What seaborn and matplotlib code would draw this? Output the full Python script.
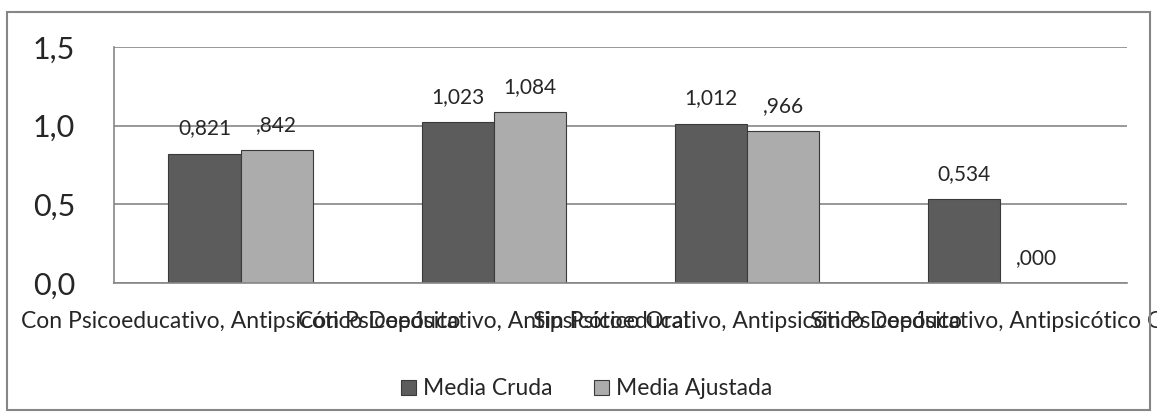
import pandas as pd
import matplotlib.pyplot as plt
import matplotlib.patches as patches
import seaborn as sns

categorias = [
    "Con Psicoeducativo, Antipsicótico Depósito",
    "Con Psicoeducativo, Antipsicótico Oral",
    "Sin Psicoeducativo, Antipsicótico Depósito",
    "Sin Psicoeducativo, Antipsicótico Oral",
]
media_cruda = [0.821, 1.023, 1.012, 0.534]
media_ajustada = [0.842, 1.084, 0.966, 0.000]
etiquetas_cruda = ["0,821", "1,023", "1,012", "0,534"]
etiquetas_ajustada = [",842", "1,084", ",966", ",000"]
series = ["Media Cruda", "Media Ajustada"]
yticks = [0.0, 0.5, 1.0, 1.5]
ytick_labels = ["0,0", "0,5", "1,0", "1,5"]

df = pd.DataFrame({
    "categoria": categorias * 2,
    "valor": media_cruda + media_ajustada,
    "serie": [series[0]] * 4 + [series[1]] * 4,
})

sns.set_style("white")
plt.rcParams['font.family'] = ['Lato', 'DejaVu Sans']

fig = plt.figure(figsize=(11.57, 4.19), dpi=100)
ax = fig.add_axes([0.0985, 0.3246, 0.8755, 0.5634])

sns.barplot(data=df, x="categoria", y="valor", hue="serie",
            palette=["#5c5c5c", "#acacac"], width=0.57, ax=ax,
            edgecolor="#3a3a3a", linewidth=0.8, saturation=1)

ax.bar_label(ax.containers[0], labels=etiquetas_cruda, padding=11, fontsize=15)
ax.bar_label(ax.containers[1], labels=etiquetas_ajustada, padding=11, fontsize=15)

ax.set_ylim(0, 1.5)
ax.set_xlim(-0.5, 3.5)
ax.set_yticks(yticks)
ax.set_yticklabels(ytick_labels, fontsize=22)
ax.set_xticks(range(4))
ax.set_xticklabels(categorias, fontsize=16.5)
ax.set_xticks([-0.5, 0.5, 1.5, 2.5, 3.5], minor=True)
ax.tick_params(axis='x', which='major', length=0, pad=20)
ax.tick_params(axis='x', which='minor', length=8, direction='out', color='#868686', width=1.2)
ax.tick_params(axis='y', length=12, direction='out', color='#868686', width=1.2, pad=16)
ax.yaxis.grid(True, color='#868686', linewidth=1.2)
ax.set_axisbelow(True)
ax.set_xlabel("")
ax.set_ylabel("")
for s in ["top", "right"]:
    ax.spines[s].set_visible(False)
for s in ["left", "bottom"]:
    ax.spines[s].set_color('#868686')
    ax.spines[s].set_linewidth(1.2)

ax.legend(loc='center', bbox_to_anchor=(0.507, 0.072), bbox_transform=fig.transFigure,
          ncol=2, frameon=False, fontsize=16.5, handlelength=0.65, handleheight=0.65,
          handletextpad=0.3, columnspacing=1.8)

fig.patches.append(patches.Rectangle((7 / 1157, 9 / 419), 1143 / 1157, 398 / 419,
                                     transform=fig.transFigure, fill=False,
                                     edgecolor='#868686', linewidth=1.5))

fig.savefig("out.png", dpi=100)
